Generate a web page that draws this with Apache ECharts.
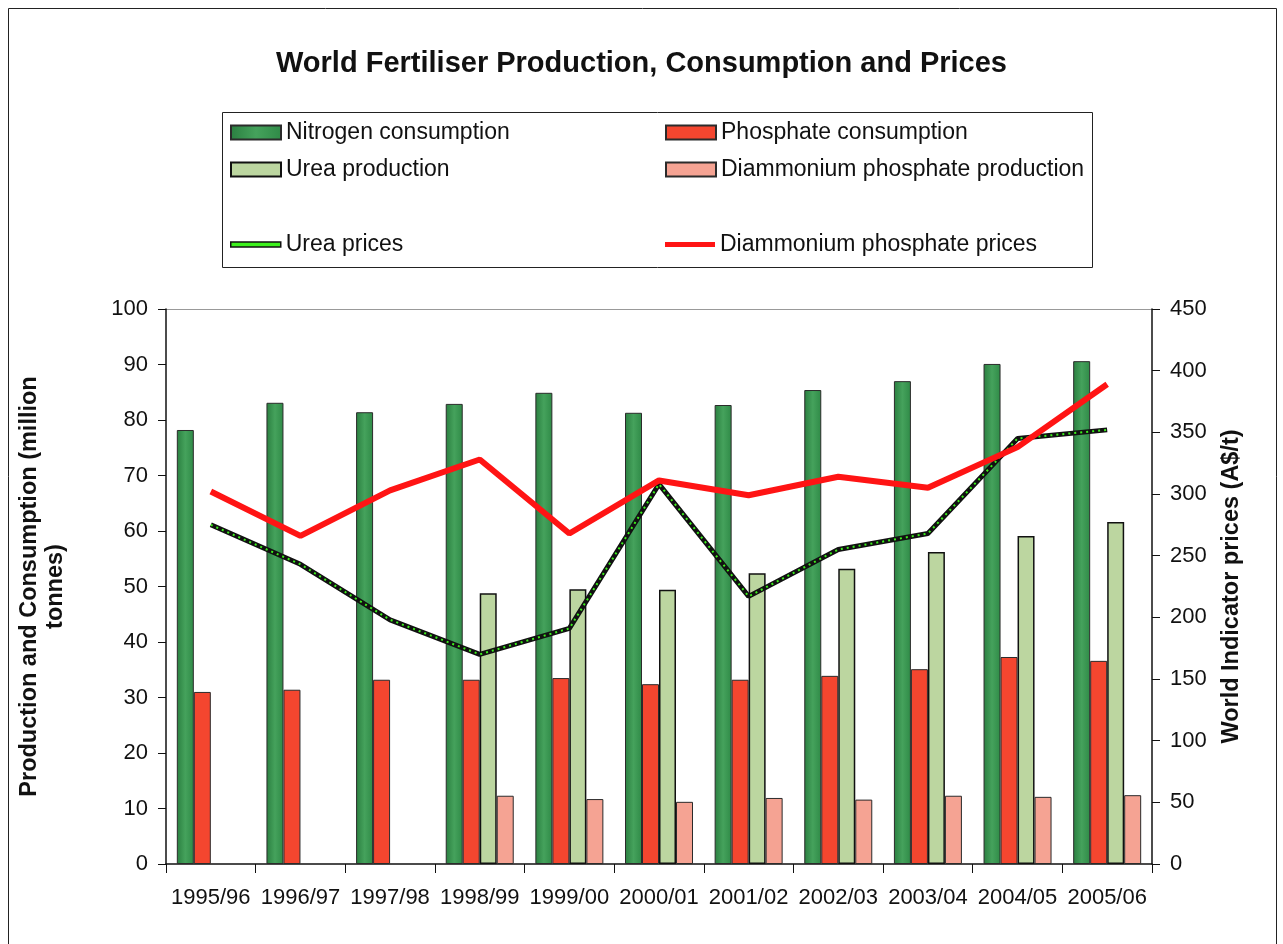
<!DOCTYPE html>
<html>
<head>
<meta charset="utf-8">
<script src="https://cdn.jsdelivr.net/npm/echarts@6/dist/echarts.min.js"></script>
<style>
  html, body { margin: 0; padding: 0; background: #fff; }
  #chart { width: 1283px; height: 944px; }
</style>
</head>
<body>
<div id="chart"></div>
<script>
// Seasons on the category axis
const seasons = ['1995/96', '1996/97', '1997/98', '1998/99', '1999/00', '2000/01',
                 '2001/02', '2002/03', '2003/04', '2004/05', '2005/06'];

// Million tonnes (left axis)
const nitrogenConsumption = [78.2, 83.1, 81.4, 82.9, 84.9, 81.3, 82.7, 85.4, 87.0, 90.1, 90.6];
const phosphateConsumption = [31.0, 31.4, 33.2, 33.2, 33.5, 32.4, 33.2, 33.9, 35.1, 37.3, 36.6];
const ureaProduction = [null, null, null, 48.8, 49.5, 49.4, 52.4, 53.2, 56.2, 59.1, 61.6];
const dapProduction = [null, null, null, 12.3, 11.7, 11.2, 11.9, 11.6, 12.3, 12.1, 12.4];

// A$/t (right axis)
const ureaPrices = [275, 243, 198, 170, 191, 308, 217, 255, 268, 345, 352];
const dapPrices = [302, 266, 303, 328, 268, 311, 299, 314, 305, 338, 389];

const leftTicks = { min: 0, max: 100, interval: 10 };
const rightTicks = { min: 0, max: 450, interval: 50 };

const FONT = '"Liberation Sans", Arial, sans-serif';
const chart = echarts.init(document.getElementById('chart'), null, { renderer: 'canvas' });

const legendText = { fontFamily: FONT, fontSize: 23, color: '#111' };
const BAR_ICON = 'rect';
const LINE_ICON = 'path://M0,0 L60,0 L60,6 L0,6 Z';

function legendAt(item, left, top, h) {
  return {
    data: [item], left: left, top: top, itemWidth: 50, itemHeight: h, itemGap: 4,
    textStyle: legendText, selectedMode: false
  };
}

const barBorder = { borderColor: '#2b2b2b', borderWidth: 1 };
const GREEN_DARK = '#2f8a47';
const RED = '#f4462f';
const GREEN_LIGHT = '#bcd6a0';
const SALMON = '#f5a393';
const PRICE_RED = '#ff1414';
const PRICE_GREEN = '#3cf01c';

chart.setOption({
  animation: false,
  backgroundColor: '#fff',
  title: {
    text: 'World Fertiliser Production, Consumption and Prices',
    left: 'center', top: 44,
    textStyle: { fontFamily: FONT, fontSize: 29, fontWeight: 'bold', color: '#111' }
  },
  legend: [
    legendAt({ name: 'Nitrogen consumption', icon: BAR_ICON }, 225, 116, 14),
    legendAt({ name: 'Phosphate consumption', icon: BAR_ICON }, 660, 116, 14),
    legendAt({ name: 'Urea production', icon: BAR_ICON }, 225, 153, 14),
    legendAt({ name: 'Diammonium phosphate production', icon: BAR_ICON }, 660, 153, 14),
    legendAt({ name: 'Urea prices', icon: LINE_ICON,
               itemStyle: { color: PRICE_GREEN, borderColor: '#111', borderWidth: 1.5 } }, 225, 228, 5),
    legendAt({ name: 'Diammonium phosphate prices', icon: LINE_ICON,
               itemStyle: { color: PRICE_RED, borderWidth: 0 } }, 660, 228, 7)
  ],
  graphic: [
    { type: 'rect', shape: { x: 8.5, y: 8.5, width: 1268, height: 980 },
      style: { fill: null, stroke: '#222', lineWidth: 1 }, silent: true },
    { type: 'rect', shape: { x: 222.5, y: 112.5, width: 870, height: 155 },
      style: { fill: null, stroke: '#222', lineWidth: 1 }, silent: true, z: 10 },
    { type: 'line', shape: { x1: 166, y1: 309.5, x2: 1152, y2: 309.5 },
      style: { stroke: '#999', lineWidth: 1 }, silent: true }
  ],
  grid: { left: 166, right: 131, top: 309, bottom: 80 },
  xAxis: {
    type: 'category',
    data: seasons,
    axisLine: { lineStyle: { color: '#111', width: 1.5 } },
    axisTick: { show: true, length: 9, lineStyle: { color: '#111' } },
    axisLabel: { fontFamily: FONT, fontSize: 22, color: '#111', margin: 23, interval: 0 }
  },
  yAxis: [
    {
      type: 'value', min: leftTicks.min, max: leftTicks.max, interval: leftTicks.interval,
      name: 'Production and Consumption (million\ntonnes)',
      nameLocation: 'middle', nameGap: 97, nameRotate: 90,
      nameTextStyle: { fontFamily: FONT, fontSize: 23.5, fontWeight: 'bold', color: '#111', lineHeight: 26 },
      axisLine: { show: true, lineStyle: { color: '#111', width: 1.5 } },
      axisTick: { show: true, length: 8, lineStyle: { color: '#111' } },
      axisLabel: { fontFamily: FONT, fontSize: 22, color: '#111', margin: 18 },
      splitLine: { show: false }
    },
    {
      type: 'value', min: rightTicks.min, max: rightTicks.max, interval: rightTicks.interval,
      name: 'World Indicator prices (A$/t)',
      nameLocation: 'middle', nameGap: 68, nameRotate: 90,
      nameTextStyle: { fontFamily: FONT, fontSize: 23.5, fontWeight: 'bold', color: '#111' },
      axisLine: { show: true, lineStyle: { color: '#111', width: 1.5 } },
      axisTick: { show: true, length: 8, lineStyle: { color: '#111' } },
      axisLabel: { fontFamily: FONT, fontSize: 22, color: '#111', margin: 18 },
      splitLine: { show: false }
    }
  ],
  series: [
    {
      name: 'Nitrogen consumption', type: 'bar', yAxisIndex: 0, data: nitrogenConsumption,
      barWidth: 17, barGap: '0%',
      itemStyle: Object.assign({
        color: new echarts.graphic.LinearGradient(0, 0, 1, 0, [
          { offset: 0, color: '#2a7f40' }, { offset: 0.5, color: '#45a25c' }, { offset: 1, color: GREEN_DARK }
        ])
      }, barBorder)
    },
    {
      name: 'Phosphate consumption', type: 'bar', yAxisIndex: 0, data: phosphateConsumption,
      barWidth: 17, barGap: '0%',
      itemStyle: Object.assign({ color: RED }, barBorder)
    },
    {
      name: 'Urea production', type: 'bar', yAxisIndex: 0, data: ureaProduction,
      barWidth: 17, barGap: '0%',
      itemStyle: { color: GREEN_LIGHT, borderColor: '#111', borderWidth: 1.5 }
    },
    {
      name: 'Diammonium phosphate production', type: 'bar', yAxisIndex: 0, data: dapProduction,
      barWidth: 17, barGap: '0%',
      itemStyle: Object.assign({ color: SALMON }, barBorder)
    },
    {
      // dark under-stroke of the urea price line
      name: 'Urea prices (stroke)', type: 'line', yAxisIndex: 1, data: ureaPrices,
      symbol: 'none', silent: true, z: 3,
      lineStyle: { color: '#111', width: 5 }
    },
    {
      name: 'Urea prices', type: 'line', yAxisIndex: 1, data: ureaPrices,
      symbol: 'none', z: 4,
      itemStyle: { color: PRICE_GREEN },
      lineStyle: { color: PRICE_GREEN, width: 2, type: [2, 4] }
    },
    {
      name: 'Diammonium phosphate prices', type: 'line', yAxisIndex: 1, data: dapPrices,
      symbol: 'none', z: 4,
      itemStyle: { color: PRICE_RED },
      lineStyle: { color: PRICE_RED, width: 6 }
    }
  ]
});
</script>
</body>
</html>
